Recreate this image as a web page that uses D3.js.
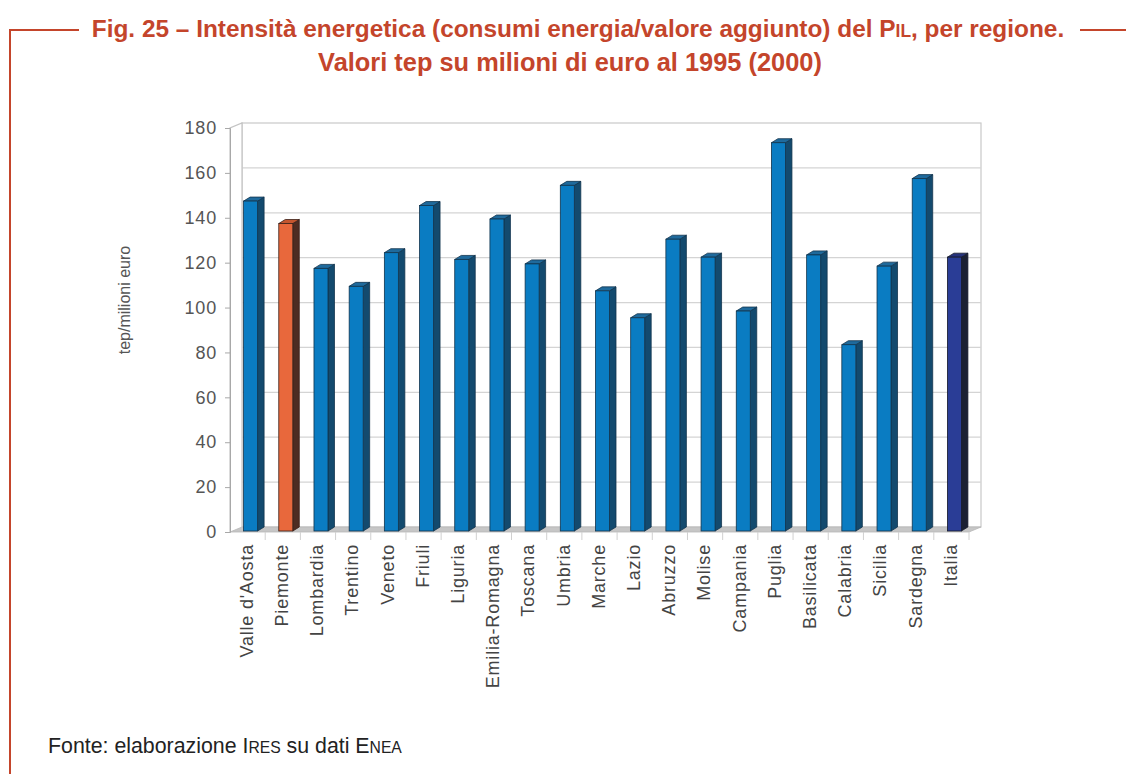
<!DOCTYPE html>
<html>
<head>
<meta charset="utf-8">
<script src="https://cdn.jsdelivr.net/npm/d3@7/dist/d3.min.js"></script>
<style>
  html, body { margin: 0; padding: 0; background: #fff; }
  svg { display: block; }
  text { font-family: "Liberation Sans", Arial, Helvetica, sans-serif; }
</style>
</head>
<body>
<svg id="chart" width="1131" height="774"></svg>
<script>
// ---- DATA ----
const categories = ["Valle d'Aosta", "Piemonte", "Lombardia", "Trentino", "Veneto", "Friuli", "Liguria",
  "Emilia-Romagna", "Toscana", "Umbria", "Marche", "Lazio", "Abruzzo", "Molise", "Campania",
  "Puglia", "Basilicata", "Calabria", "Sicilia", "Sardegna", "Italia"];
const values = [147, 137, 117, 109, 124, 145, 121, 139, 119, 154, 107, 95, 130, 122, 98, 173, 123, 83, 118, 157, 122];
const yTicks = [0, 20, 40, 60, 80, 100, 120, 140, 160, 180];
const yLabel = "tep/milioni euro";
const titleLine2 = "Valori tep su milioni di euro al 1995 (2000)";

// ---- STYLES ----
const red = "#c4452b";
const palette = {
  normal:  { front: "#0a7cc2", side: "#134a6e", top: "#1f6a9c", stroke: "#12344c" },
  Piemonte:{ front: "#e8683c", side: "#4d2c22", top: "#c4562f", stroke: "#3a2018" },
  Italia:  { front: "#2a3d96", side: "#1b2033", top: "#26337c", stroke: "#161a2a" }
};

const svg = d3.select("#chart");

// ---- frame ----
svg.append("line").attr("x1", 10).attr("x2", 10).attr("y1", 30).attr("y2", 774)
  .attr("stroke", red).attr("stroke-width", 2);
svg.append("line").attr("x1", 9).attr("x2", 79).attr("y1", 30).attr("y2", 30)
  .attr("stroke", red).attr("stroke-width", 2);
svg.append("line").attr("x1", 1080).attr("x2", 1126).attr("y1", 30).attr("y2", 30)
  .attr("stroke", red).attr("stroke-width", 2);

// ---- title ----
const t1 = svg.append("text").attr("x", 578).attr("y", 37).attr("text-anchor", "middle")
  .attr("fill", red).attr("font-weight", "bold").attr("font-size", 21);
t1.append("tspan").text("Fig. 25 \u2013 Intensit\u00e0 energetica (consumi energia/valore aggiunto) del P");
t1.append("tspan").attr("font-size", 15).text("IL");
t1.append("tspan").text(", per regione.");
const t2 = svg.append("text").attr("x", 570).attr("y", 71).attr("text-anchor", "middle")
  .attr("fill", red).attr("font-weight", "bold").attr("font-size", 21).text(titleLine2);
function fitWidth(sel, target) {
  const w = sel.node().getComputedTextLength();
  const fs = +sel.attr("font-size");
  const k = target / w;
  sel.attr("font-size", fs * k);
  sel.selectAll("tspan").each(function() {
    const s = d3.select(this);
    if (s.attr("font-size")) s.attr("font-size", +s.attr("font-size") * k);
  });
}
fitWidth(t1, 973);
fitWidth(t2, 504);

// ---- scales ----
const x0 = 230, x1 = 969;
const x = d3.scaleBand().domain(categories).range([x0, x1]).padding(0);
const y = d3.scaleLinear().domain([0, 180]).range([532, 128]);
const ddx = 12, ddy = -5;
const bw = 14, bdx = 6.5, bdy = -4;

// ---- back wall ----
const g = svg.append("g");
g.append("rect").attr("x", x0 + ddx).attr("y", y(180) + ddy)
  .attr("width", x1 - x0).attr("height", y(0) - y(180))
  .attr("fill", "#fff").attr("stroke", "#c9c9c9").attr("stroke-width", 1.2);
g.selectAll("line.grid").data(yTicks.filter(v => v > 0 && v < 180)).join("line")
  .attr("class", "grid")
  .attr("x1", x0 + ddx).attr("x2", x1 + ddx)
  .attr("y1", d => y(d) + ddy).attr("y2", d => y(d) + ddy)
  .attr("stroke", "#d4d4d4").attr("stroke-width", 1.2);
g.append("path")
  .attr("d", `M${x0},${y(0)} L${x0},${y(180)} L${x0 + ddx},${y(180) + ddy} L${x0 + ddx},${y(0) + ddy}`)
  .attr("fill", "#fff").attr("stroke", "#c4c4c4").attr("stroke-width", 1.2);
g.append("path")
  .attr("d", `M${x0},${y(0)} L${x1},${y(0)} L${x1 + ddx},${y(0) + ddy} L${x0 + ddx},${y(0) + ddy} Z`)
  .attr("fill", "#c6c6c6").attr("stroke", "#b8b8b8").attr("stroke-width", 0.8);

g.selectAll("line.div").data(categories.slice(1).concat(["__end"])).join("line")
  .attr("class", "div")
  .attr("x1", d => d === "__end" ? x1 : x(d)).attr("x2", d => d === "__end" ? x1 : x(d))
  .attr("y1", y(0)).attr("y2", y(0) + 8)
  .attr("stroke", "#d0d0d0").attr("stroke-width", 1);

// ---- y axis ----
const yAxis = d3.axisLeft(y).tickValues(yTicks).tickSize(5).tickPadding(8);
const ya = svg.append("g").attr("transform", `translate(${x0},0)`).call(yAxis);
ya.select(".domain").attr("stroke", "#a8a8a8");
ya.selectAll(".tick line").attr("stroke", "#a8a8a8");
ya.selectAll(".tick text").attr("fill", "#555").attr("font-size", 18)
  .attr("letter-spacing", 0.8)
  .attr("font-family", "'Liberation Sans', Arial, sans-serif");

svg.append("text").attr("transform", "translate(130,300) rotate(-90)")
  .attr("text-anchor", "middle").attr("fill", "#555").attr("font-size", 16)
  .text(yLabel);

// ---- bars ----
const base = y(0) - 1;
const k = (y(0) - y(180)) / 180;
const bars = svg.append("g");
categories.forEach((c, i) => {
  const v = values[i];
  const p = palette[c] || palette.normal;
  const left = x(c) + (x.bandwidth() - bw) / 2 + 3;
  const topY = base - v * k;
  const bg = bars.append("g");
  bg.append("path")
    .attr("d", `M${left + bw},${base} L${left + bw},${topY} L${left + bw + bdx},${topY + bdy} L${left + bw + bdx},${base + bdy} Z`)
    .attr("fill", p.side).attr("stroke", p.stroke).attr("stroke-width", 0.8);
  bg.append("path")
    .attr("d", `M${left},${topY} L${left + bw},${topY} L${left + bw + bdx},${topY + bdy} L${left + bdx},${topY + bdy} Z`)
    .attr("fill", p.top).attr("stroke", p.stroke).attr("stroke-width", 0.8);
  bg.append("rect").attr("x", left).attr("y", topY).attr("width", bw).attr("height", base - topY)
    .attr("fill", p.front).attr("stroke", p.stroke).attr("stroke-width", 0.8);
});

// ---- x labels ----
svg.append("g").selectAll("text").data(categories).join("text")
  .attr("transform", d => `translate(${x(d) + x.bandwidth() / 2 - 1},544) rotate(-90)`)
  .attr("text-anchor", "end").attr("dy", "0.35em")
  .attr("fill", "#444").attr("font-size", 18).attr("letter-spacing", 0.8)
  .text(d => d);

// ---- footer ----
const f = svg.append("text").attr("x", 48).attr("y", 753).attr("fill", "#222").attr("font-size", 17);
f.append("tspan").text("Fonte: elaborazione I");
f.append("tspan").attr("font-size", 12.5).text("RES");
f.append("tspan").text(" su dati E");
f.append("tspan").attr("font-size", 12.5).text("NEA");
fitWidth(f, 354);
</script>
</body>
</html>
